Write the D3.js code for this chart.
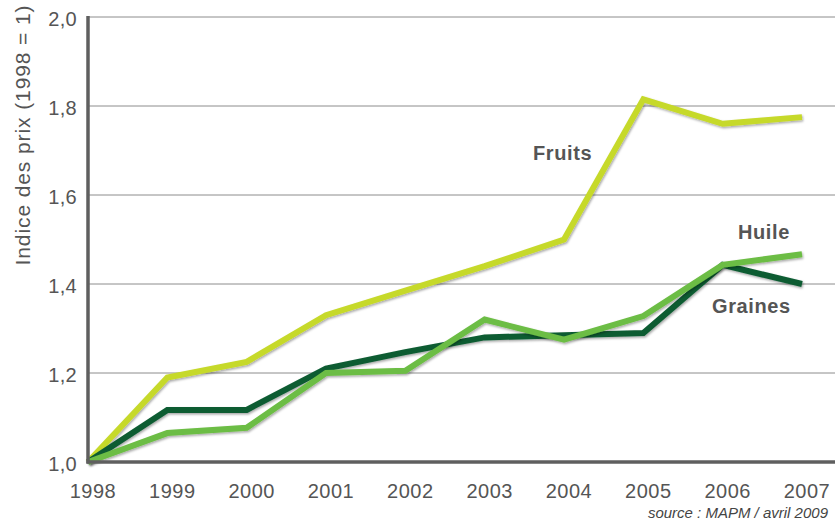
<!DOCTYPE html>
<html>
<head>
<meta charset="utf-8">
<script src="https://cdn.jsdelivr.net/npm/d3@7"></script>
<style>
  body { margin: 0; background: #fff; }
  text { font-family: "Liberation Sans", Arial, sans-serif; }
</style>
</head>
<body>
<div id="chart"></div>
<script>
// data
const years = [1998, 1999, 2000, 2001, 2002, 2003, 2004, 2005, 2006, 2007];
const fruits = [1.0, 1.19, 1.225, 1.33, 1.385, 1.44, 1.5, 1.815, 1.76, 1.775];
const graines = [1.0, 1.117, 1.117, 1.21, 1.247, 1.28, 1.285, 1.29, 1.443, 1.40];
const huile = [1.0, 1.065, 1.077, 1.2, 1.205, 1.32, 1.275, 1.328, 1.443, 1.467];
const yTicks = [1.0, 1.2, 1.4, 1.6, 1.8, 2.0];

const width = 840, height = 531;
const margin = {top: 17, right: 5, bottom: 69, left: 88};

const svg = d3.select("#chart").append("svg")
    .attr("width", width)
    .attr("height", height);

const x = d3.scaleLinear().domain([1998, 2007]).range([margin.left, 802]);
const y = d3.scaleLinear().domain([1, 2]).range([height - margin.bottom, margin.top]);

// shadow filter for the lines
const defs = svg.append("defs");
const f = defs.append("filter").attr("id", "shadow")
    .attr("x", "-5%").attr("y", "-5%").attr("width", "110%").attr("height", "120%");
f.append("feDropShadow")
    .attr("dx", 1).attr("dy", 1.5).attr("stdDeviation", 1.2)
    .attr("flood-color", "#000").attr("flood-opacity", 0.35);

// gridlines
svg.append("g")
  .selectAll("line")
  .data(yTicks.filter(d => d > 1))
  .join("line")
    .attr("x1", margin.left)
    .attr("x2", width - margin.right)
    .attr("y1", d => y(d))
    .attr("y2", d => y(d))
    .style("stroke", "#8c8c8c")
    .style("stroke-width", 1);

// y tick labels
svg.append("g")
  .selectAll("text")
  .data(yTicks)
  .join("text")
    .attr("x", margin.left - 11)
    .attr("y", d => y(d) + 9)
    .attr("text-anchor", "end")
    .style("font-size", "20px")
    .style("letter-spacing", "0.3px")
    .style("fill", "#555")
    .text(d => d3.format(".1f")(d).replace(".", ","));

// x tick labels
svg.append("g")
  .selectAll("text")
  .data(years)
  .join("text")
    .attr("x", d => x(d) + 5)
    .attr("y", 498)
    .attr("text-anchor", "middle")
    .style("font-size", "20px")
    .style("letter-spacing", "0.5px")
    .style("fill", "#555")
    .text(d => d);

const line = d3.line()
    .x((d, i) => x(years[i]))
    .y(d => y(d));

const series = [
  {name: "Fruits", values: fruits, color: "#c6d92b"},
  {name: "Graines", values: graines, color: "#0d5c33"},
  {name: "Huile", values: huile, color: "#6cbd44"}
];

svg.append("g")
  .selectAll("path")
  .data(series)
  .join("path")
    .attr("d", d => line(d.values))
    .attr("filter", "url(#shadow)")
    .style("fill", "none")
    .style("stroke", d => d.color)
    .style("stroke-width", 6)
    .style("stroke-linejoin", "miter");

// axes lines
svg.append("line")
    .attr("x1", margin.left).attr("x2", margin.left)
    .attr("y1", margin.top - 1).attr("y2", y(1) + 1.5)
    .style("stroke", "#5f5f5f").style("stroke-width", 3.5);
svg.append("line")
    .attr("x1", margin.left - 1.5).attr("x2", width - margin.right)
    .attr("y1", y(1)).attr("y2", y(1))
    .style("stroke", "#5f5f5f").style("stroke-width", 3.5);

// series labels
const labels = [
  {text: "Fruits", x: 533, y: 160},
  {text: "Huile", x: 738, y: 239},
  {text: "Graines", x: 712, y: 313}
];
svg.append("g")
  .selectAll("text")
  .data(labels)
  .join("text")
    .attr("x", d => d.x)
    .attr("y", d => d.y)
    .style("font-size", "20px")
    .style("font-weight", "bold")
    .style("letter-spacing", "0.6px")
    .style("fill", "#555")
    .text(d => d.text);

// y axis title
svg.append("text")
    .attr("transform", "translate(30,135) rotate(-90)")
    .attr("text-anchor", "middle")
    .style("font-size", "21px")
    .style("letter-spacing", "0.9px")
    .style("fill", "#555")
    .text("Indice des prix (1998 = 1)");

// source
svg.append("text")
    .attr("x", 828)
    .attr("y", 518)
    .attr("text-anchor", "end")
    .style("font-size", "15px")
    .style("font-style", "italic")
    .style("fill", "#444")
    .text("source : MAPM / avril 2009");
</script>
</body>
</html>
